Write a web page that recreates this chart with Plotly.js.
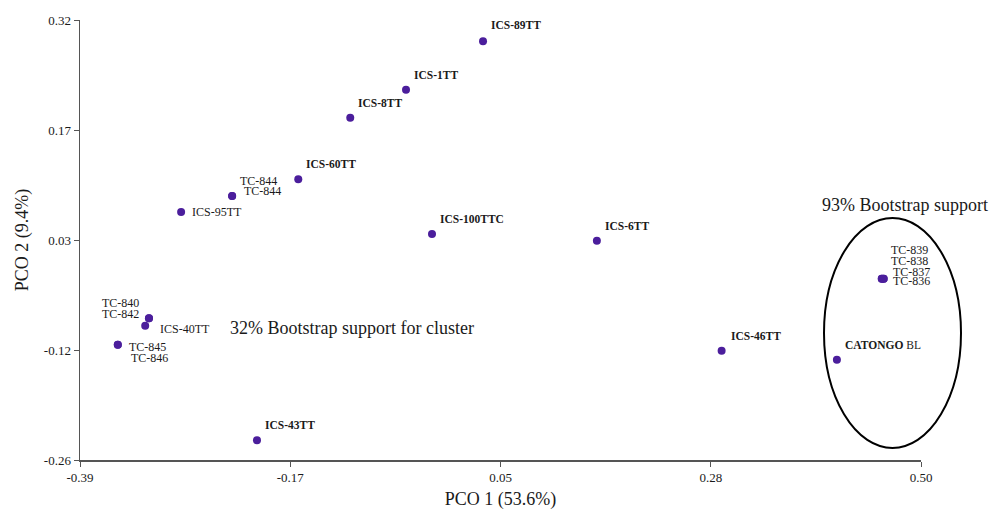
<!DOCTYPE html>
<html>
<head>
<meta charset="utf-8">
<script src="https://cdn.plot.ly/plotly-3.0.1.min.js"></script>
<style>html,body{margin:0;padding:0;background:#fff;}#chart{width:994px;height:513px;}</style>
</head>
<body>
<div id="chart"></div>
<script>
// ---- data ----
var accessions = ["ICS-89TT","ICS-1TT","ICS-8TT","ICS-60TT","TC-844","TC-844","ICS-95TT",
  "ICS-100TTC","ICS-6TT","TC-839","TC-838","TC-837","TC-836","CATONGO BL","ICS-46TT",
  "TC-840","TC-842","ICS-40TT","TC-845","TC-846","ICS-43TT"];
var pco1 = [0.0365,-0.045,-0.104,-0.159,-0.229,-0.229,-0.283,
  -0.0175,0.157,0.4585,0.4585,0.4605,0.4605,0.411,0.289,
  -0.317,-0.317,-0.321,-0.350,-0.350,-0.2027];
var pco2 = [0.292,0.228,0.191,0.110,0.088,0.088,0.067,
  0.038,0.029,-0.021,-0.021,-0.021,-0.021,-0.128,-0.116,
  -0.073,-0.073,-0.083,-0.108,-0.108,-0.234];
var xTickVals = [-0.39,-0.1675,0.055,0.2775,0.50];
var xTickText = ["-0.39","-0.17","0.05","0.28","0.50"];
var yTickVals = [-0.26,-0.115,0.03,0.175,0.32];
var yTickText = ["-0.26","-0.12","0.03","0.17","0.32"];
var xTitle = "PCO 1 (53.6%)";
var yTitle = "PCO 2 (9.4%)";
var note1 = "32% Bootstrap support for cluster";
var note2 = "93% Bootstrap support";

// ---- label styling: [dx, dy (px), anchor, bold] ----
var labelStyle = [
  [6,-16,"left",1],[6,-15,"left",1],[6,-15,"left",1],[6,-15,"left",1],
  [6,-15,"left",0],[10,-5,"left",0],[9,0,"left",0],
  [6,-15,"left",1],[6,-15,"left",1],
  [7,-29,"left",0],[7,-18,"left",0],[7,-7,"left",0],[7,2,"left",0],
  [6,-15,"left",2],[7,-15,"left",1],
  [-8,-15,"right",0],[-8,-4,"right",0],[13,3,"left",0],[9,2,"left",0],[11,13,"left",0],
  [6,-15,"left",1]
];

var serif = "'Liberation Serif', 'Times New Roman', serif";
var annotations = accessions.map(function(name,i){
  var s = labelStyle[i];
  var txt = name;
  if (s[3]===1) txt = "<b>"+name+"</b>";
  if (s[3]===2) txt = "<b>CATONGO</b> BL";
  return {x:pco1[i], y:pco2[i], xref:"x", yref:"y", text:txt, showarrow:false,
    xanchor:s[2], yanchor:"middle", xshift:s[0], yshift:-s[1],
    font:{family:serif, size:s[3]?11.5:12, color:"#1a1a1a"}};
});
annotations.push({xref:"paper", yref:"paper", x:(228-80)/841, y:(460-328)/440, text:note1,
  showarrow:false, xanchor:"left", yanchor:"middle", font:{family:serif,size:18,color:"#1a1a1a"}});
annotations.push({xref:"paper", yref:"paper", x:(820-80)/841, y:(460-205)/440, text:note2,
  showarrow:false, xanchor:"left", yanchor:"middle", font:{family:serif,size:18,color:"#1a1a1a"}});

var trace = {x:pco1, y:pco2, mode:"markers", type:"scatter",
  marker:{color:"#4b1e9c", size:8}, hoverinfo:"skip", cliponaxis:false};

var layout = {
  width:994, height:513,
  margin:{l:80, r:73, t:20, b:53},
  paper_bgcolor:"#fff", plot_bgcolor:"#fff",
  showlegend:false,
  font:{family:serif, color:"#1a1a1a"},
  xaxis:{range:[-0.39,0.50], tickvals:xTickVals, ticktext:xTickText, showgrid:false, zeroline:false,
    showline:true, linecolor:"#555", linewidth:1.5, ticks:"outside", ticklen:5, tickcolor:"#555",
    tickfont:{family:serif,size:13,color:"#1a1a1a"},
    title:{text:xTitle, font:{family:serif,size:18,color:"#1a1a1a"}, standoff:8}, automargin:false},
  yaxis:{range:[-0.26,0.32], tickvals:yTickVals, ticktext:yTickText, showgrid:false, zeroline:false,
    showline:true, linecolor:"#555", linewidth:1.5, ticks:"outside", ticklen:5, tickcolor:"#555",
    tickfont:{family:serif,size:13,color:"#1a1a1a"},
    title:{text:yTitle, font:{family:serif,size:18,color:"#1a1a1a"}, standoff:10}, automargin:false},
  shapes:[{type:"circle", xref:"paper", yref:"paper", x0:(824-80)/841, x1:(961-80)/841,
    y0:(460-448)/440, y1:(460-218)/440, line:{color:"#000", width:2}}],
  annotations:annotations
};
Plotly.newPlot("chart",[trace],layout,{displayModeBar:false, staticPlot:true});
</script>
</body>
</html>
